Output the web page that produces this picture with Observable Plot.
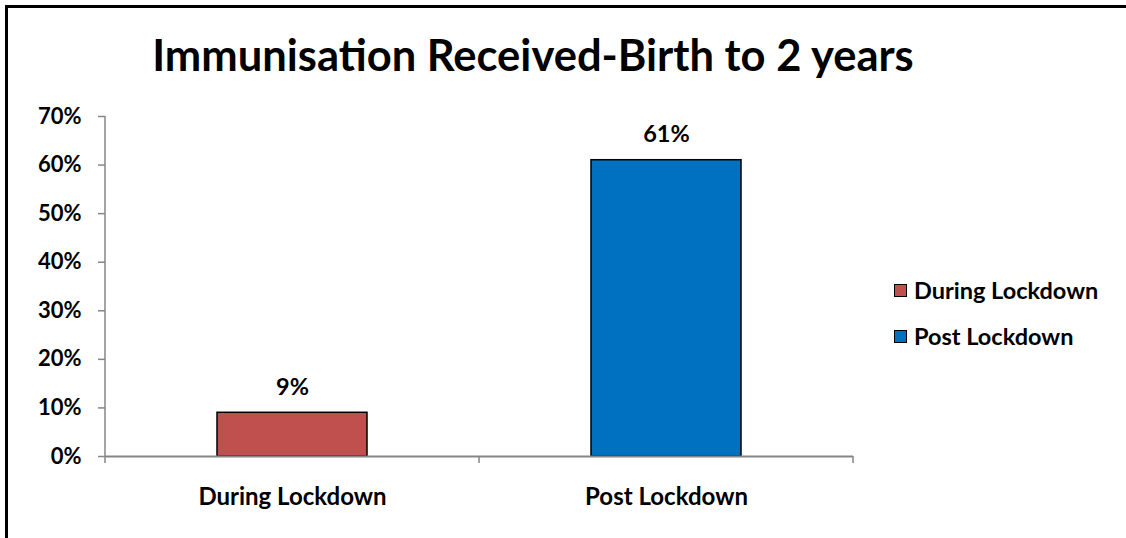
<!DOCTYPE html>
<html>
<head>
<meta charset="utf-8">
<script src="https://cdn.jsdelivr.net/npm/d3@7"></script>
<script src="https://cdn.jsdelivr.net/npm/@observablehq/plot@0.6"></script>
<style>
  html, body { margin: 0; padding: 0; background: #fff; overflow: hidden; }
  #wrap { position: relative; width: 1126px; height: 538px; overflow: hidden; font-family: Lato, "Open Sans", sans-serif; }
  #bt { position: absolute; left: 5px; top: 5px; width: 1121px; height: 3px; background: #000; }
  #bl { position: absolute; left: 5px; top: 5px; width: 3px; height: 533px; background: #000; }
  #title { position: absolute; left: 0; width: 1066px; top: 26px; text-align: center; font-weight: 700; font-size: 43.5px; line-height: 56px; color: #000; white-space: nowrap; }
  #plot { position: absolute; left: 0; top: 0; }
  #legend { position: absolute; left: 894px; top: 276px; font-weight: 700; font-size: 23.5px; color: #000; }
  .item { display: flex; align-items: center; height: 28px; margin-bottom: 18px; white-space: nowrap; }
  .sw { width: 11px; height: 11px; border: 1.5px solid #000; margin-right: 7px; }
</style>
</head>
<body>
<div id="wrap">
  <div id="bt"></div>
  <div id="bl"></div>
  <div id="title"></div>
  <div id="plot"></div>
  <div id="legend"></div>
</div>
<script>
const titleText = "Immunisation Received-Birth to 2 years";
const categories = ["During Lockdown", "Post Lockdown"];
const values = [0.09, 0.61];
const colors = ["#C0504D", "#0070C0"];
const yTicks = [0, 0.1, 0.2, 0.3, 0.4, 0.5, 0.6, 0.7];

const data = categories.map((c, i) => ({category: c, value: values[i]}));
document.getElementById("title").textContent = titleText;

const axisColor = "#868686";
const chart = Plot.plot({
  width: 1126,
  height: 538,
  marginLeft: 105,
  marginRight: 273,
  marginTop: 116,
  marginBottom: 82,
  style: {fontFamily: "Lato, 'Open Sans', sans-serif", fontWeight: 700, fontSize: "20px", color: "#000", background: "transparent"},
  x: {domain: categories, paddingInner: 0.599, paddingOuter: 0.2995, label: null},
  y: {domain: [0, 0.7], label: null},
  color: {domain: categories, range: colors},
  marks: [
    Plot.axisY({ticks: yTicks, tickFormat: d3.format(".0%"), tickSize: 7, tickPadding: 17, stroke: axisColor, strokeWidth: 1.5, fontSize: 22, fill: "#000"}),
    Plot.axisX({tickSize: 0, tickPadding: 31, fontSize: 24, fill: "#000"}),
    Plot.barY(data, {x: "category", y: "value", fill: "category", stroke: "#000", strokeWidth: 1.5}),
    Plot.ruleY([0], {stroke: axisColor, strokeWidth: 2}),
    Plot.text(data, {x: "category", y: "value", text: d => d3.format(".0%")(d.value), lineAnchor: "bottom", dy: -18, fontSize: 23.5, fontWeight: 700, fill: "#000"})
  ]
});
document.getElementById("plot").appendChild(chart);

// y axis line and category boundary ticks, from the library's scales
const sx = chart.scale("x");
const sy = chart.scale("y");
const svg = d3.select(chart);
const g = svg.append("g").attr("stroke", axisColor).attr("stroke-width", 1.5);
const y0 = sy.apply(0), yTop = sy.apply(0.7);
const xLeft = sx.range[0];
g.append("line").attr("x1", xLeft).attr("x2", xLeft).attr("y1", yTop).attr("y2", y0 + 7);
const gap = sx.step * sx.paddingInner / 2;
const bounds = [sx.apply(categories[0]) - gap];
categories.forEach(c => bounds.push(sx.apply(c) + sx.bandwidth + gap));
bounds.slice(1).forEach(b => g.append("line").attr("x1", b).attr("x2", b).attr("y1", y0).attr("y2", y0 + 7));

const legend = document.getElementById("legend");
categories.forEach((c, i) => {
  const item = document.createElement("div");
  item.className = "item";
  const sw = document.createElement("div");
  sw.className = "sw";
  sw.style.background = colors[i];
  const t = document.createElement("span");
  t.textContent = c;
  item.appendChild(sw);
  item.appendChild(t);
  legend.appendChild(item);
});
</script>
</body>
</html>
